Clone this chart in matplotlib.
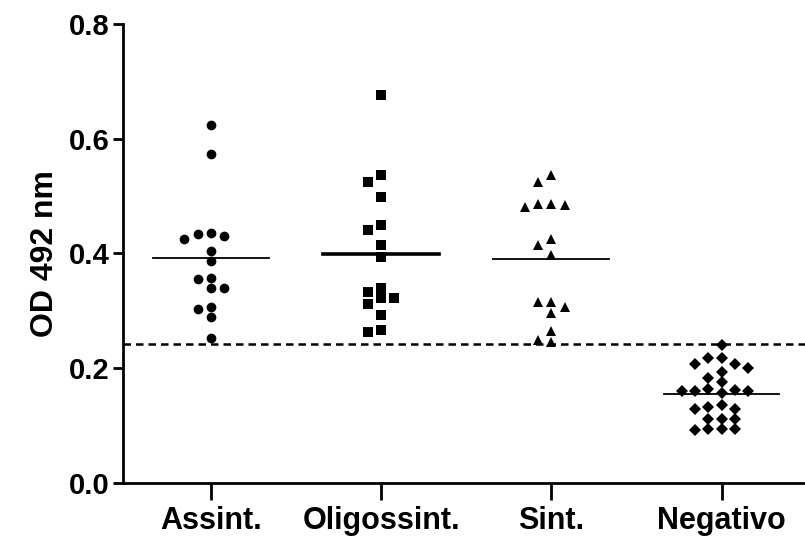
import numpy as np
from matplotlib import pyplot as plt

plt.rcParams['font.family'] = ['Liberation Sans', 'DejaVu Sans']
plt.rcParams['font.weight'] = 'bold'

categories = ['Assint.', 'Oligossint.', 'Sint.', 'Negativo']

assint = [0.624, 0.574, 0.436, 0.434, 0.431, 0.425, 0.405, 0.387,
          0.358, 0.356, 0.340, 0.339, 0.307, 0.303, 0.289, 0.253]
oligossint = [0.676, 0.537, 0.525, 0.499, 0.449, 0.440, 0.415, 0.393,
              0.339, 0.333, 0.323, 0.322, 0.312, 0.293, 0.267, 0.263]
sint = [0.537, 0.524, 0.487, 0.486, 0.484, 0.481, 0.426, 0.415,
        0.397, 0.316, 0.316, 0.307, 0.297, 0.265, 0.249, 0.246]
negativo = [0.240, 0.217, 0.217, 0.208, 0.207, 0.200, 0.193, 0.182,
            0.176, 0.163, 0.162, 0.160, 0.160, 0.160, 0.156, 0.136,
            0.132, 0.129, 0.129, 0.111, 0.111, 0.111, 0.094, 0.094,
            0.094, 0.092]
groups = [assint, oligossint, sint, negativo]

cutoff = 0.242

markers = ['o', 's', '^', 'D']
sizes = [7, 6.5, 7.5, 6]
mean_lw = [1.3, 2.6, 1.3, 1.3]


def swarm_offsets(values, step=0.078, min_gap=0.017):
    # place each point in the slot nearest the centre that is free
    placed = {}
    offsets = np.zeros(len(values))
    order = np.argsort(values)[::-1]
    for i in order:
        v = values[i]
        k = 0
        while True:
            for slot in ([0] if k == 0 else [-k, k]):
                if all(abs(v - w) >= min_gap for w in placed.get(slot, [])):
                    placed.setdefault(slot, []).append(v)
                    offsets[i] = slot * step
                    break
            else:
                k += 1
                continue
            break
    return offsets


fig = plt.figure(figsize=(8.05, 5.45), dpi=100)
ax = fig.add_axes([0.153, 0.114, 0.847, 0.842])

for i, vals in enumerate(groups):
    vals = np.array(vals)
    xs = i + swarm_offsets(vals)
    ax.plot(xs, vals, linestyle='none', marker=markers[i], markersize=sizes[i],
            color='black', markeredgewidth=0, zorder=3)
    m = np.mean(vals)
    ax.plot([i - 0.34, i + 0.34], [m, m], color='black', lw=mean_lw[i], zorder=2)

ax.axhline(cutoff, color='black', lw=1.8, linestyle=(0, (3, 2)), zorder=1)

ax.set_xlim(-0.515, 3.49)
ax.set_ylim(0, 0.8)
ax.set_xticks(range(len(categories)))
ax.set_xticklabels(categories, fontsize=22, fontweight='bold')
ax.set_yticks([0.0, 0.2, 0.4, 0.6, 0.8])
ax.set_yticklabels(['0.0', '0.2', '0.4', '0.6', '0.8'], fontsize=21, fontweight='bold')
ax.set_ylabel('OD 492 nm', fontsize=23, fontweight='bold', labelpad=6)

for side in ['top', 'right']:
    ax.spines[side].set_visible(False)
for side in ['left', 'bottom']:
    ax.spines[side].set_linewidth(2.0)
ax.tick_params(axis='y', length=7, width=2.0, pad=3)
ax.tick_params(axis='x', length=12, width=2.0, pad=5)

fig.savefig('out.png', dpi=100)
